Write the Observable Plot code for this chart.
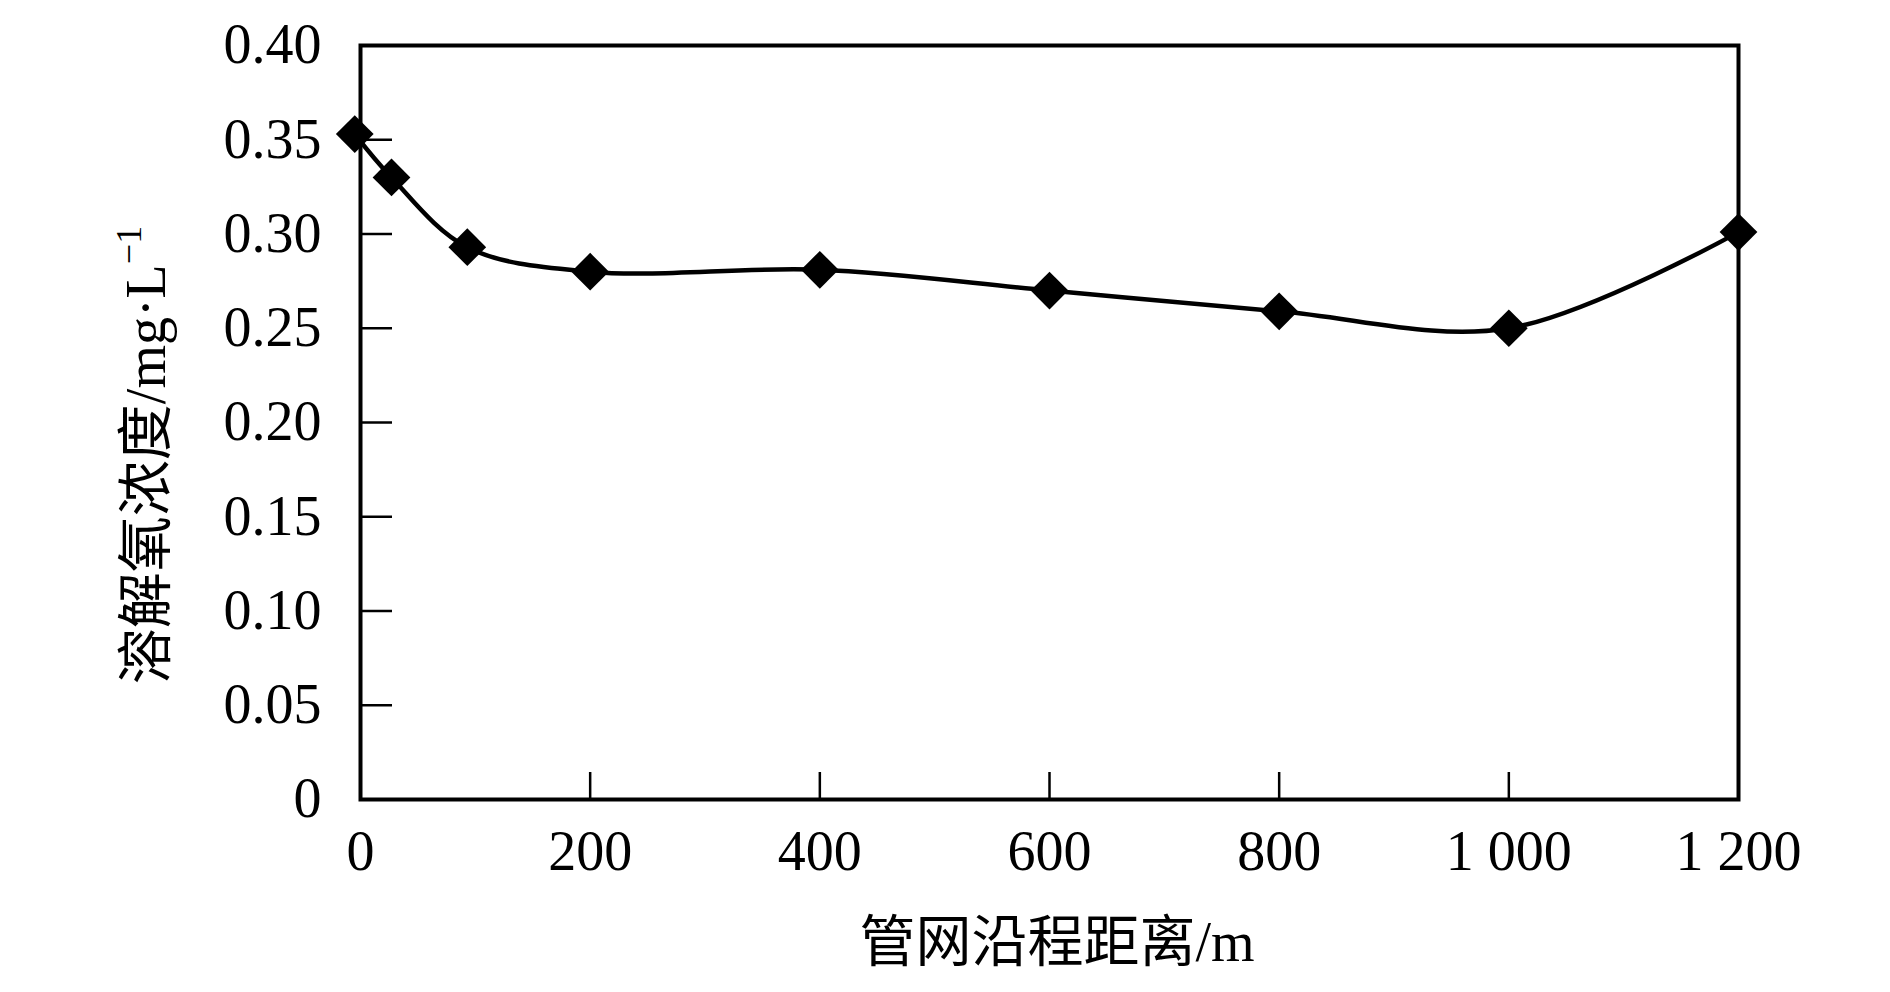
<!DOCTYPE html>
<html>
<head>
<meta charset="utf-8">
<script src="https://cdn.jsdelivr.net/npm/d3@7"></script>
<script src="https://cdn.jsdelivr.net/npm/@observablehq/plot@0.6"></script>
<style>
  html, body { margin: 0; padding: 0; background: #fff; }
  #chart { width: 1890px; height: 992px; }
</style>
</head>
<body>
<div id="chart"></div>
<script>
// Data
const distance = [-5, 27, 93, 200, 400, 600, 800, 1000, 1200];
const oxygen = [0.353, 0.330, 0.293, 0.280, 0.281, 0.270, 0.259, 0.250, 0.301];

const xTicks = [0, 200, 400, 600, 800, 1000, 1200];
const xTickLabels = ["0", "200", "400", "600", "800", "1 000", "1 200"];
const yTicks = [0, 0.05, 0.10, 0.15, 0.20, 0.25, 0.30, 0.35, 0.40];
const yTickLabels = ["0", "0.05", "0.10", "0.15", "0.20", "0.25", "0.30", "0.35", "0.40"];

const xTitle = "管网沿程距离/m";
const yTitleCJK = "溶解氧浓度";
const yTitleUnit = "/mg·L";
const yTitleSup = "−1";

const data = distance.map((d, i) => ({x: d, y: oxygen[i]}));

const serif = "'Liberation Serif', 'Noto Sans CJK SC', serif";

const chart = Plot.plot({
  width: 1890,
  height: 992,
  marginLeft: 360,
  marginRight: 152,
  marginTop: 45,
  marginBottom: 193,
  style: {fontFamily: serif, fontSize: "56px", color: "#000", background: "#fff"},
  x: {domain: [0, 1200]},
  y: {domain: [0, 0.4]},
  marks: [
    Plot.axisX({ticks: xTicks, tickSize: 0, tickPadding: 31, tickFormat: (d) => xTickLabels[xTicks.indexOf(d)], label: null}),
    Plot.axisX({ticks: xTicks.slice(1, -1), tickSize: -27, strokeWidth: 2.5, text: null, label: null}),
    Plot.axisY({ticks: yTicks, tickSize: 0, tickPadding: 39, tickFormat: (d) => yTickLabels[yTicks.indexOf(d)], label: null}),
    Plot.axisY({ticks: yTicks.slice(1, -1), tickSize: -32, strokeWidth: 2.5, text: null, label: null}),
    Plot.frame({stroke: "#000", strokeWidth: 4}),
    Plot.line(data, {x: "x", y: "y", curve: "catmull-rom", stroke: "#000", strokeWidth: 4.5}),
    Plot.dot(data, {x: "x", y: "y", symbol: "diamond2", r: 17, fill: "#000", stroke: "none"})
  ]
});

document.getElementById("chart").appendChild(chart);

const svg = d3.select(chart);

// X axis title
svg.append("text")
  .attr("x", 1057)
  .attr("y", 961)
  .attr("text-anchor", "middle")
  .attr("font-family", serif)
  .attr("font-size", 56)
  .attr("fill", "#000")
  .text(xTitle);

// Y axis title (rotated, with superscript)
const yt = svg.append("text")
  .attr("transform", "translate(165,455) rotate(-90)")
  .attr("text-anchor", "middle")
  .attr("font-family", serif)
  .attr("font-size", 56)
  .attr("fill", "#000");
yt.append("tspan").attr("font-family", "'Noto Sans CJK SC', sans-serif").text(yTitleCJK);
yt.append("tspan").text(yTitleUnit);
yt.append("tspan").attr("font-size", 36).attr("dy", -24).text(yTitleSup);
</script>
</body>
</html>
